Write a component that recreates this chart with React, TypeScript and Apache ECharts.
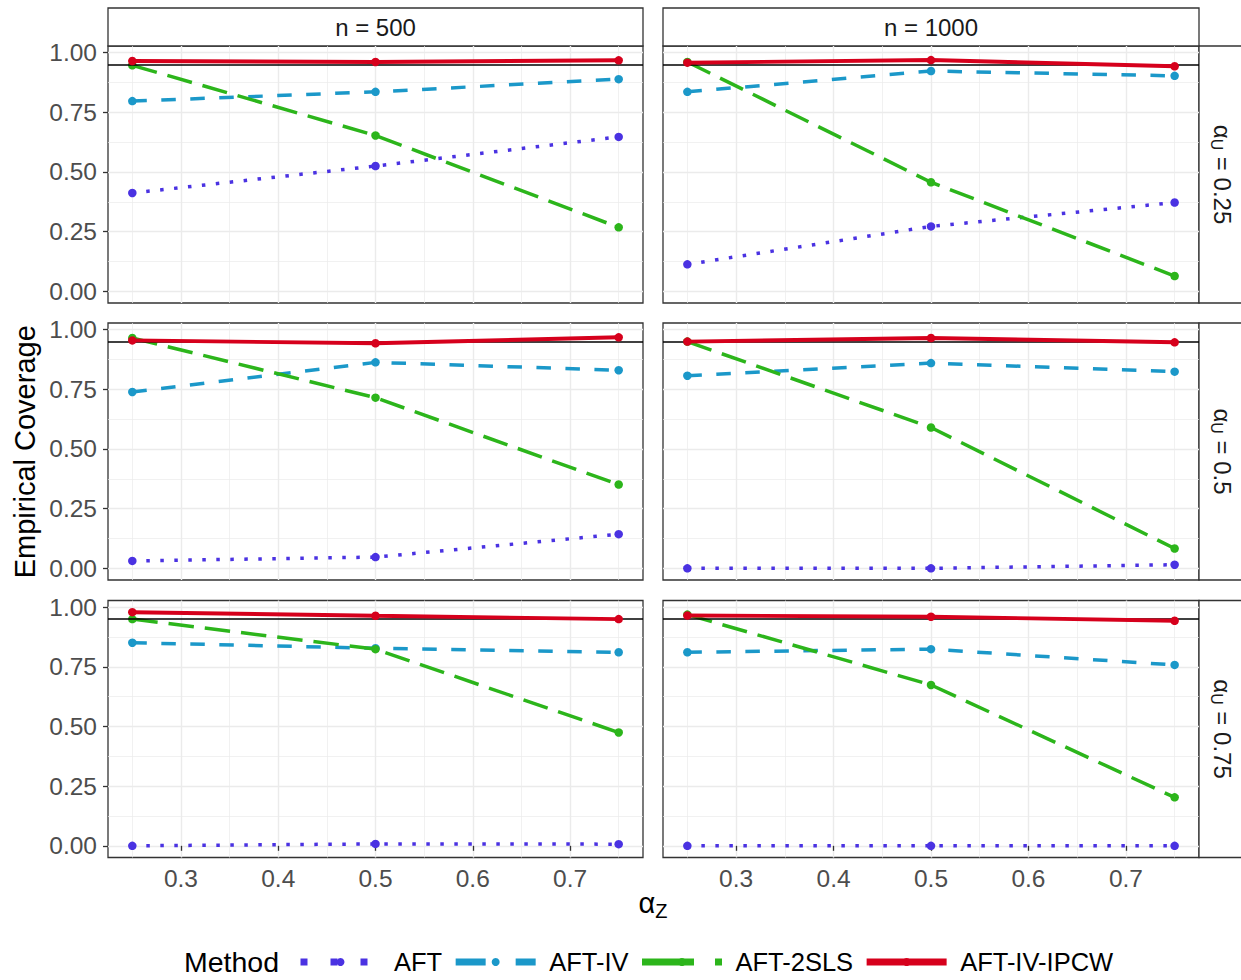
import React, { useEffect, useRef } from "react";
import * as echarts from "echarts";

// ---------------- data ----------------
const METHODS = ["AFT", "AFT-IV", "AFT-2SLS", "AFT-IV-IPCW"];
const ALPHA_Z = [0.25, 0.5, 0.75];
const N_LABELS = ["n = 500", "n = 1000"];
const ALPHA_U_LABELS = ["0.25", "0.5", "0.75"];
const REF_COVERAGE = 0.95;
const Y_TICKS = [0, 0.25, 0.5, 0.75, 1];
const Y_MINOR = [0.125, 0.375, 0.625, 0.875];
const X_TICKS = [0.3, 0.4, 0.5, 0.6, 0.7];
const X_MINOR = [0.25, 0.35, 0.45, 0.55, 0.65, 0.75];

// [alphaU row][n column] -> coverage at ALPHA_Z
const AFT_COV = [
  [[0.412, 0.525, 0.647], [0.113, 0.272, 0.372]],
  [[0.031, 0.047, 0.143], [0.0, 0.0, 0.015]],
  [[0.0, 0.008, 0.007], [0.0, 0.0, 0.0]],
];
const AFT_IV_COV = [
  [[0.797, 0.836, 0.889], [0.836, 0.923, 0.903]],
  [[0.739, 0.863, 0.83], [0.807, 0.86, 0.824]],
  [[0.851, 0.828, 0.811], [0.811, 0.824, 0.758]],
];
const AFT_2SLS_COV = [
  [[0.947, 0.653, 0.268], [0.961, 0.457, 0.064]],
  [[0.965, 0.715, 0.351], [0.95, 0.59, 0.083]],
  [[0.95, 0.824, 0.475], [0.969, 0.674, 0.203]],
];
const AFT_IV_IPCW_COV = [
  [[0.965, 0.961, 0.968], [0.958, 0.969, 0.943]],
  [[0.955, 0.943, 0.968], [0.95, 0.965, 0.947]],
  [[0.979, 0.964, 0.95], [0.965, 0.96, 0.943]],
];
const COVERAGE = [AFT_COV, AFT_IV_COV, AFT_2SLS_COV, AFT_IV_IPCW_COV];

// ---------------- styles ----------------
const COLORS = ["#4A32E2", "#1B98C9", "#2CB51B", "#D6001C"];
const LINE_DASH: any[] = [[3.5, 10.5], [14.5, 14.5], [25.5, 11], "solid"];
const LINE_W = [3.5, 3.5, 3.5, 3.9];
const LEGEND_DASH: any[] = [[7, 23], [30, 30], [52, 21], "solid"];
const FONT = '"Liberation Sans", Arial, Helvetica, sans-serif';

const COL_LEFT = [108, 663];
const COL_WIDTH = [535, 536];
const ROW_TOP = [46, 323, 600.5];
const PANEL_H = 257;

function buildOption() {
  const all: number[] = [];
  COVERAGE.forEach((m) => m.forEach((row) => row.forEach((p) => p.forEach((v) => all.push(v)))));
  const lo = Math.min(...all);
  const hi = Math.max(...all);
  const yPad = (hi - lo) * 0.05;
  const yMin = lo - yPad;
  const yMax = hi + yPad;
  const xLo = Math.min(...ALPHA_Z);
  const xHi = Math.max(...ALPHA_Z);
  const xPad = (xHi - xLo) * 0.05;
  const xMin = xLo - xPad;
  const xMax = xHi + xPad;

  const grids: any[] = [];
  const xAxes: any[] = [];
  const yAxes: any[] = [];
  const series: any[] = [];
  const graphics: any[] = [];

  const majorLine = { show: true, lineStyle: { color: "#EBEBEB", width: 1.4 } };
  const minorLine = { show: true, lineStyle: { color: "#EBEBEB", width: 0.7 } };

  for (let r = 0; r < 3; r++) {
    for (let c = 0; c < 2; c++) {
      const g = r * 2 + c;
      grids.push({
        left: COL_LEFT[c],
        top: ROW_TOP[r],
        width: COL_WIDTH[c],
        height: PANEL_H,
        show: true,
        borderColor: "#333333",
        borderWidth: 1.3,
        backgroundColor: "#FFFFFF",
        containLabel: false,
        outerBoundsMode: "none",
      });
      const showX = r === 2;
      const showY = c === 0;
      xAxes.push({
        type: "value",
        gridIndex: g,
        min: xMin,
        max: xMax,
        axisLine: { show: false },
        axisTick: {
          show: showX,
          length: 5,
          customValues: X_TICKS,
          lineStyle: { color: "#333333", width: 1.3 },
        },
        axisLabel: {
          show: showX,
          customValues: X_TICKS,
          margin: 8,
          fontSize: 24.5,
          fontFamily: FONT,
          color: "#4D4D4D",
          formatter: (v: number) => v.toFixed(1),
        },
        splitLine: majorLine,
      });
      xAxes.push({
        type: "value",
        gridIndex: g,
        min: xMin,
        max: xMax,
        axisLine: { show: false },
        axisTick: { show: false, customValues: X_MINOR },
        axisLabel: { show: false },
        splitLine: minorLine,
      });
      yAxes.push({
        type: "value",
        gridIndex: g,
        min: yMin,
        max: yMax,
        axisLine: { show: false },
        axisTick: {
          show: showY,
          length: 5,
          customValues: Y_TICKS,
          lineStyle: { color: "#333333", width: 1.3 },
        },
        axisLabel: {
          show: showY,
          customValues: Y_TICKS,
          margin: 11,
          fontSize: 24.5,
          fontFamily: FONT,
          color: "#4D4D4D",
          formatter: (v: number) => v.toFixed(2),
        },
        splitLine: majorLine,
      });
      yAxes.push({
        type: "value",
        gridIndex: g,
        min: yMin,
        max: yMax,
        axisLine: { show: false },
        axisTick: { show: false, customValues: Y_MINOR },
        axisLabel: { show: false },
        splitLine: minorLine,
      });

      METHODS.forEach((name, m) => {
        const vals = COVERAGE[m][r][c];
        const s: any = {
          type: "line",
          name,
          xAxisIndex: 2 * g,
          yAxisIndex: 2 * g,
          data: ALPHA_Z.map((x, i) => [x, vals[i]]),
          symbol: "circle",
          symbolSize: 8.5,
          showAllSymbol: true,
          z: 2 + m,
          lineStyle: { color: COLORS[m], width: LINE_W[m], type: LINE_DASH[m], cap: "butt" },
          itemStyle: { color: COLORS[m] },
          emphasis: { disabled: true },
        };
        if (m === METHODS.length - 1) {
          s.markLine = {
            silent: true,
            symbol: ["none", "none"],
            label: { show: false },
            lineStyle: { color: "#000000", width: 1.6, type: "solid" },
            emphasis: { disabled: true },
            data: [{ yAxis: REF_COVERAGE }],
          };
        }
        series.push(s);
      });

      // right strips (rows)
      if (c === 1) {
        graphics.push({
          type: "rect",
          shape: { x: 1199, y: ROW_TOP[r], width: 60, height: PANEL_H },
          style: { fill: "#FFFFFF", stroke: "#333333", lineWidth: 1.3 },
        });
        graphics.push({
          type: "text",
          x: 1222,
          y: ROW_TOP[r] + PANEL_H / 2,
          rotation: -Math.PI / 2,
          style: {
            text: `{a|α}{s|U}{a| = ${ALPHA_U_LABELS[r]}}`,
            align: "center",
            verticalAlign: "middle",
            textAlign: "center",
            textVerticalAlign: "middle",
            rich: {
              a: { fontSize: 24, fontFamily: FONT, fill: "#1A1A1A", color: "#1A1A1A" },
              s: { fontSize: 16, fontFamily: FONT, fill: "#1A1A1A", color: "#1A1A1A", padding: [12, 0, 0, 0] },
            },
          },
        });
      }
    }
  }

  // top strips (columns)
  for (let c = 0; c < 2; c++) {
    graphics.push({
      type: "rect",
      shape: { x: COL_LEFT[c], y: 8, width: COL_WIDTH[c], height: 38 },
      style: { fill: "#FFFFFF", stroke: "#333333", lineWidth: 1.3 },
    });
    graphics.push({
      type: "text",
      x: COL_LEFT[c] + COL_WIDTH[c] / 2,
      y: 27.5,
      style: {
        text: N_LABELS[c],
        fontSize: 24,
        fontFamily: FONT,
        fill: "#1A1A1A",
        align: "center",
        verticalAlign: "middle",
        textAlign: "center",
        textVerticalAlign: "middle",
      },
    });
  }

  // axis titles
  graphics.push({
    type: "text",
    x: 25,
    y: (ROW_TOP[0] + ROW_TOP[2] + PANEL_H) / 2,
    rotation: Math.PI / 2,
    style: {
      text: "Empirical Coverage",
      fontSize: 29,
      fontFamily: FONT,
      fill: "#000000",
      align: "center",
      verticalAlign: "middle",
      textAlign: "center",
      textVerticalAlign: "middle",
    },
  });
  graphics.push({
    type: "text",
    x: 653,
    y: 903,
    style: {
      text: "{a|α}{s|Z}",
      align: "center",
      verticalAlign: "middle",
      textAlign: "center",
      textVerticalAlign: "middle",
      rich: {
        a: { fontSize: 29, fontFamily: FONT, fill: "#000000", color: "#000000" },
        s: { fontSize: 20, fontFamily: FONT, fill: "#000000", color: "#000000", padding: [16, 0, 0, 0] },
      },
    },
  });
  // legend title
  graphics.push({
    type: "text",
    x: 184,
    y: 962,
    style: {
      text: "Method",
      fontSize: 28.5,
      fontFamily: FONT,
      fill: "#000000",
      align: "left",
      verticalAlign: "middle",
      textAlign: "left",
      textVerticalAlign: "middle",
    },
  });

  return {
    animation: false,
    backgroundColor: "#FFFFFF",
    grid: grids,
    xAxis: xAxes,
    yAxis: yAxes,
    series,
    legend: {
      show: true,
      orient: "horizontal",
      left: 292,
      top: 943,
      itemWidth: 80,
      itemHeight: 10,
      itemGap: 10,
      selectedMode: false,
      textStyle: {
        fontSize: 25.5,
        fontFamily: FONT,
        color: "#000000",
        padding: [0, 0, 0, 8.5],
        lineHeight: 28,
      },
      data: METHODS.map((name, m) => ({
        name,
        lineStyle: { width: 7, type: LEGEND_DASH[m], cap: "butt", color: COLORS[m] },
        itemStyle: { color: COLORS[m] },
      })),
    },
    graphic: { elements: graphics },
  };
}

export default function App() {
  const ref = useRef<HTMLDivElement>(null);
  useEffect(() => {
    if (!ref.current) return;
    const chart = echarts.init(ref.current, null, { renderer: "svg" });
    chart.setOption(buildOption() as any);
    return () => chart.dispose();
  }, []);
  return (
    <div
      ref={ref}
      style={{ position: "absolute", left: 0, top: 0, width: 1241, height: 980 }}
    />
  );
}
